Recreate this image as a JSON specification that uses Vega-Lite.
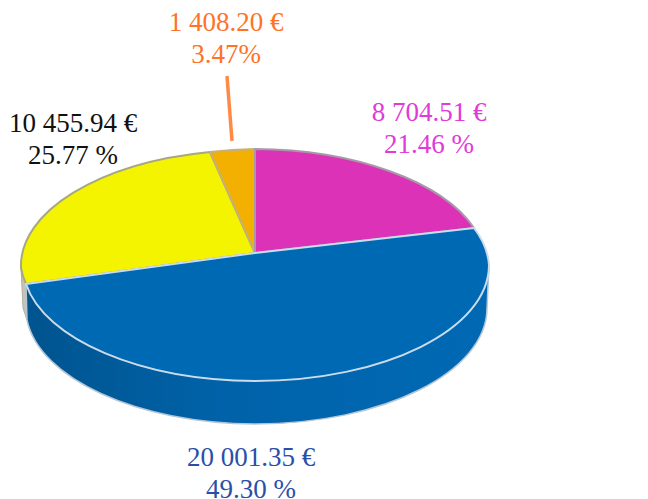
{
"$schema":"https://vega.github.io/schema/vega-lite/v6.json",
"width":648,"height":499,"padding":0,"autosize":{"type":"none"},
"background":"white",
"config":{"view":{"stroke":null}},
"data":{"values":[
{"slice":"yellow","amount":10455.94,"percent":25.77,"label":"10 455.94 €\n25.77 %"},
{"slice":"orange","amount":1408.20,"percent":3.47,"label":"1 408.20 €\n3.47%"},
{"slice":"magenta","amount":8704.51,"percent":21.46,"label":"8 704.51 €\n21.46 %"},
{"slice":"blue","amount":20001.35,"percent":49.30,"label":"20 001.35 €\n49.30 %"}
]},
"layer":[
{"transform":[{"filter":{"field":"slice","equal":"yellow"}}],
 "mark":{"type":"point","filled":true,"opacity":1,"size":4,"fill":"#C4C4B8","stroke":"#B0B0A8","strokeWidth":1,
   "shape":"M -303 18.5 L -301 58.5 L -297 70.5 L -298 34.5 Z"}},
{"transform":[{"filter":{"field":"slice","equal":"blue"}}],
 "mark":{"type":"point","filled":true,"opacity":1,"size":4,
   "fill":{"gradient":"linear","x1":0,"y1":0,"x2":1,"y2":0,"stops":[{"offset":0,"color":"#00548F"},{"offset":0.45,"color":"#0063AA"},{"offset":1,"color":"#0069B4"}]},
   "stroke":"#B4C6D6","strokeWidth":1.5,
   "shape":"M -298 34.5 L -297 70.5 A 232 116 0 0 0 -69 174.5 A 232 116 0 0 0 163 58.5 L 165 15.5 L -298 34.5 Z"}},
{"mark":{"type":"point","filled":true,"opacity":1,"size":4,"strokeWidth":2},
 "encoding":{
  "shape":{"field":"slice","type":"nominal","legend":null,"scale":{"domain":["yellow","orange","magenta","blue"],"range":[
    "M -69 3.5 L -298 34.5 A 234 116 0 0 1 -303 18.5 A 234 116 0 0 1 -114 -97.5 Z",
    "M -69 3.5 L -114 -97.5 A 234 116 0 0 1 -69 -100.5 Z",
    "M -69 3.5 L -69 -100.5 A 234 116 0 0 1 150 -21.5 Z",
    "M -69 3.5 L 150 -21.5 A 234 116 0 0 1 165 15.5 A 234 116 0 0 1 -69 131.5 A 234 116 0 0 1 -298 34.5 Z"]}},
  "fill":{"field":"slice","type":"nominal","legend":null,"scale":{"domain":["yellow","orange","magenta","blue"],"range":["#F4F400","#F4B000","#DC32B8","#0069B4"]}},
  "stroke":{"field":"slice","type":"nominal","legend":null,"scale":{"domain":["yellow","orange","magenta","blue"],"range":["#A8A880","#C4B078","#A898A8","#CADCEC"]}}
 }},
{"transform":[{"filter":{"field":"slice","equal":"orange"}}],
 "mark":{"type":"point","filled":false,"opacity":1,"size":4,"stroke":"#FF8A45","strokeWidth":3.5,"shape":"M -97 -173.5 L -92 -108.5"}},
{"transform":[{"filter":{"field":"slice","equal":"magenta"}}],
 "mark":{"type":"text","font":"Liberation Serif","fontSize":27,"lineHeight":32,"lineBreak":"\n","align":"center","baseline":"middle","dx":105,"dy":-136.5,"fill":"#E03AD8"},
 "encoding":{"text":{"field":"label"}}},
{"transform":[{"filter":{"field":"slice","equal":"orange"}}],
 "mark":{"type":"text","font":"Liberation Serif","fontSize":27,"lineHeight":32,"lineBreak":"\n","align":"center","baseline":"middle","dx":-98,"dy":-227,"fill":"#FF7326"},
 "encoding":{"text":{"field":"label"}}},
{"transform":[{"filter":{"field":"slice","equal":"yellow"}}],
 "mark":{"type":"text","font":"Liberation Serif","fontSize":27,"lineHeight":32,"lineBreak":"\n","align":"center","baseline":"middle","dx":-251,"dy":-125.5,"fill":"#111111"},
 "encoding":{"text":{"field":"label"}}},
{"transform":[{"filter":{"field":"slice","equal":"blue"}}],
 "mark":{"type":"text","font":"Liberation Serif","fontSize":27,"lineHeight":32,"lineBreak":"\n","align":"center","baseline":"middle","dx":-73,"dy":208,"fill":"#2A4FA8"},
 "encoding":{"text":{"field":"label"}}}
]
}
